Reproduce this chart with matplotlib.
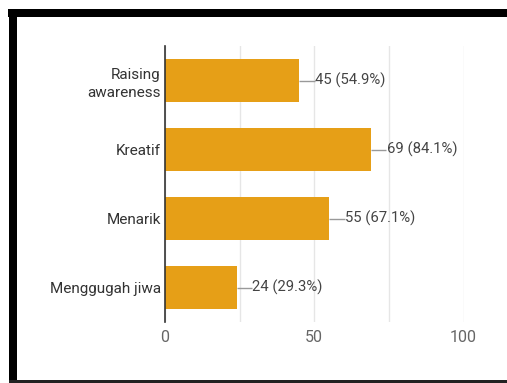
import matplotlib
matplotlib.use("Agg")
import matplotlib.pyplot as plt
from matplotlib.patches import Rectangle

categories = ["Raising\nawareness", "Kreatif", "Menarik", "Menggugah jiwa"]
values = [45, 69, 55, 24]
labels = ["45 (54.9%)", "69 (84.1%)", "55 (67.1%)", "24 (29.3%)"]
xticks = [0, 50, 100]

plt.rcParams['font.family'] = ['Roboto', 'DejaVu Sans']

W, H = 507, 383
fig = plt.figure(figsize=(W / 100, H / 100), dpi=100)
fig.patch.set_facecolor('white')

# black frame (screenshot border)
def px_rect(x0, y0, x1, y1, color):
    fig.patches.append(Rectangle((x0 / W, 1 - y1 / H), (x1 - x0) / W, (y1 - y0) / H,
                                 transform=fig.transFigure, facecolor=color,
                                 edgecolor='none', zorder=10))

px_rect(8, 9, 507, 17, 'black')
px_rect(9, 9, 17, 383, 'black')
px_rect(9, 380, 507, 383, '#222222')

ax = fig.add_axes([165 / W, 1 - 322 / H, (463.5 - 165) / W, (322 - 46) / H])
ypos = list(range(len(categories)))
ax.barh(ypos, values, height=0.62, color='#E69F17', zorder=2)
ax.set_ylim(len(categories) - 0.5, -0.5)
ax.set_xlim(0, 100)
ax.set_xticks([0, 25, 50, 75, 100])
ax.set_xticklabels([str(xticks[0]), '', str(xticks[1]), '', str(xticks[2])])
ax.set_yticks(ypos)
ax.set_yticklabels(categories, fontsize=11, color='#333333', linespacing=1.4)
ax.tick_params(axis='y', length=0, pad=3)
ax.tick_params(axis='x', length=0, labelsize=11.5, labelcolor='#666666', pad=6)
ax.grid(axis='x', color='#E6E6E6', linewidth=1, zorder=0)
for s in ['top', 'right', 'bottom']:
    ax.spines[s].set_visible(False)
ax.spines['left'].set_color('#333333')
ax.spines['left'].set_linewidth(1.2)
ax.spines['left'].set_zorder(3)

for y, v, lab in zip(ypos, values, labels):
    ax.plot([v, v + 5.2], [y, y], color='#999999', linewidth=1, zorder=3,
            solid_capstyle='butt')
    ax.text(v + 5.3, y, lab, va='center', ha='left', fontsize=10.7, color='#444444')

fig.savefig('out.png', dpi=100, facecolor='white')
